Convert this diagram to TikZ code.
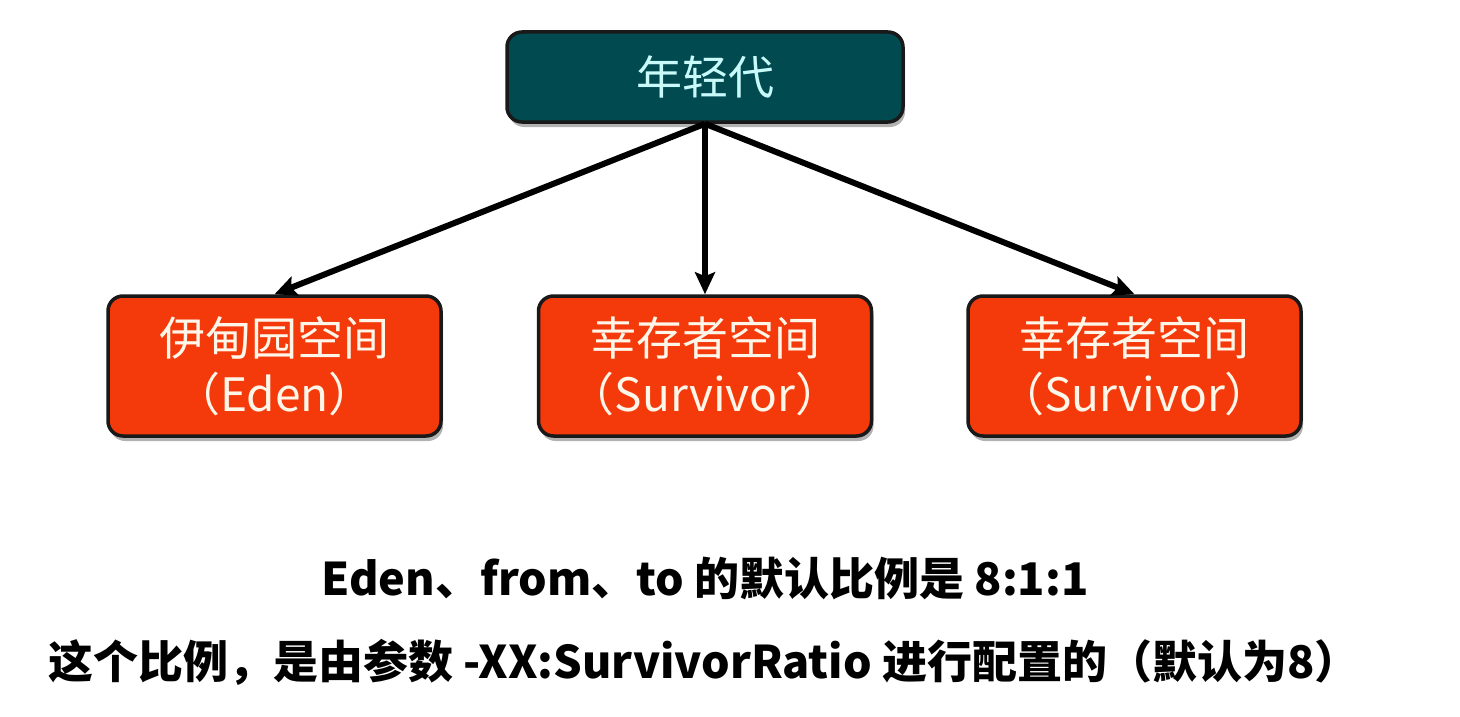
\documentclass[tikz,border=0pt]{standalone}
\usepackage{fontspec}
\setmainfont{Noto Sans CJK SC}
\usetikzlibrary{shadows,arrows.meta}
\definecolor{teal}{HTML}{004A50}
\definecolor{tealtext}{HTML}{C8FAFA}
\definecolor{redfill}{HTML}{F43A0A}
\definecolor{cream}{HTML}{FFF6EA}
\tikzset{
  boxbase/.style={draw=black!90, line width=3.5pt, rounded corners=15pt,
    drop shadow={shadow xshift=2pt, shadow yshift=-5pt, fill=black, opacity=0.3},
    align=center, inner sep=0pt},
  topbox/.style={boxbase, fill=teal, text=tealtext, minimum width=396pt, minimum height=90pt,
    font=\fontsize{46}{56}\selectfont},
  membox/.style={boxbase, fill=redfill, text=cream, minimum width=333pt, minimum height=140pt,
    font=\fontsize{46}{56}\selectfont},
  conn/.style={line width=6pt, -{Stealth[length=22pt,width=20pt,inset=4pt]}},
  note/.style={font=\bfseries\fontsize{45}{48}\selectfont, inner sep=0pt}
}
\begin{document}
\begin{tikzpicture}[x=1pt,y=-1pt]
\useasboundingbox (0,0) rectangle (1460,717);
\node[topbox] (young) at (705,77) {年轻代};
\node[membox] (eden) at (274.5,366) {伊甸园空间\\（Eden）};
\node[membox] (s0) at (705,366) {幸存者空间\\（Survivor）};
\node[membox] (s1) at (1134.5,366) {幸存者空间\\（Survivor）};
\draw[conn] (young.south) -- (eden.north);
\draw[conn] (young.south) -- (s0.north);
\draw[conn] (young.south) -- (s1.north);
\node[note] (l1) at (705,578) {Eden、from、to 的默认比例是 8:1:1};
\node[note, anchor=west] (l2) at (48,662) {这个比例，是由参数 -XX:SurvivorRatio 进行配置的（默认为8）};
\end{tikzpicture}
\end{document}
